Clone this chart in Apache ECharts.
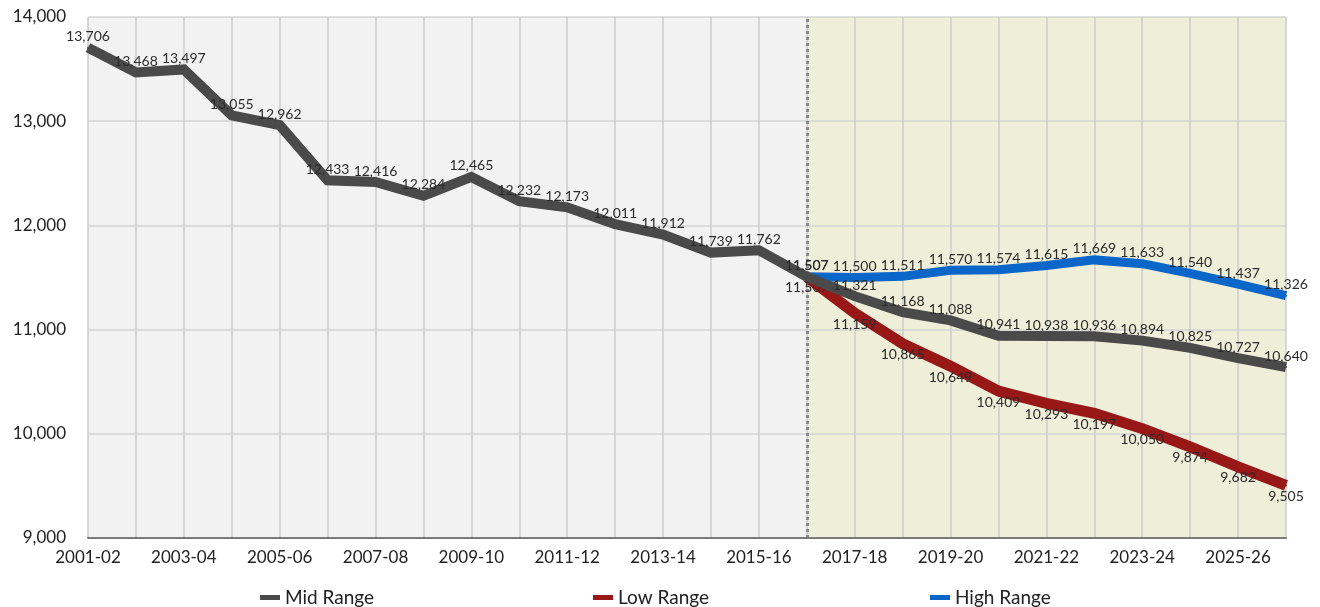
<!DOCTYPE html>
<html>
<head>
<meta charset="utf-8">
<script src="https://cdn.jsdelivr.net/npm/echarts@6/dist/echarts.min.js"></script>
<style>
  html, body { margin: 0; padding: 0; background: #fff; }
  #chart { width: 1320px; height: 607px; }
</style>
</head>
<body>
<div id="chart"></div>
<script>
// School years on the category axis
const years = ['2001-02','2002-03','2003-04','2004-05','2005-06','2006-07','2007-08','2008-09',
  '2009-10','2010-11','2011-12','2012-13','2013-14','2014-15','2015-16','2016-17','2017-18',
  '2018-19','2019-20','2020-21','2021-22','2022-23','2023-24','2024-25','2025-26','2026-27'];

// Actuals through 2016-17, then the mid-range projection
const midRange = [13706,13468,13497,13055,12962,12433,12416,12284,12465,12232,12173,12011,11912,
  11739,11762,11507,11321,11168,11088,10941,10938,10936,10894,10825,10727,10640];

// Low and high projections start from the 2016-17 value
const lowRange = [null,null,null,null,null,null,null,null,null,null,null,null,null,null,null,
  11507,11159,10865,10649,10409,10293,10197,10050,9874,9682,9505];
const highRange = [null,null,null,null,null,null,null,null,null,null,null,null,null,null,null,
  11507,11500,11511,11570,11574,11615,11669,11633,11540,11437,11326];

const yTicks = [9000, 14000, 1000]; // min, max, step
const projectionStart = '2016-17';

const FONT = 'Lato, "Noto Sans", sans-serif';
const fmt = v => Number(v).toLocaleString('en-US');

const chart = echarts.init(document.getElementById('chart'));

const labelStyle = (pos) => ({
  show: true,
  position: pos,
  distance: 3,
  fontFamily: FONT,
  fontSize: 14,
  color: '#2b2b2b',
  formatter: p => fmt(p.value)
});

// tiny point markers (hidden inside the thick line) that carry the value labels
const pointMarks = {
  symbol: 'circle',
  symbolSize: 2,
  showSymbol: true,
  showAllSymbol: true
};

const legendBase = {
  top: 583,
  itemWidth: 20,
  itemHeight: 5,
  icon: 'rect',
  textStyle: { fontFamily: FONT, fontSize: 19, color: '#222' }
};

chart.setOption({
  animation: false,
  backgroundColor: '#fff',
  grid: { left: 88, right: 34, top: 17, bottom: 69 },
  legend: [
    Object.assign({ left: 255, data: ['Mid Range'] }, legendBase),
    Object.assign({ left: 588, data: ['Low Range'] }, legendBase),
    Object.assign({ left: 925, data: ['High Range'] }, legendBase)
  ],
  xAxis: {
    type: 'category',
    data: years,
    boundaryGap: false,
    z: 3,
    axisLine: { show: true, lineStyle: { color: '#7a7a7a', width: 2 } },
    axisTick: { show: false },
    axisLabel: { interval: 1, fontFamily: FONT, fontSize: 17, color: '#222', margin: 11 },
    splitLine: { show: false }
  },
  yAxis: {
    type: 'value',
    min: yTicks[0],
    max: yTicks[1],
    interval: yTicks[2],
    axisLine: { show: false },
    axisTick: { show: false },
    axisLabel: { fontFamily: FONT, fontSize: 17, color: '#222', margin: 22, formatter: v => fmt(v) },
    splitLine: { show: true, lineStyle: { color: '#d4d4d4', width: 1.5 } }
  },
  series: [
    {
      // background panels and the vertical year grid, drawn under the data lines
      name: 'panels',
      type: 'line',
      z: -1,
      silent: true,
      data: midRange,
      showSymbol: false,
      lineStyle: { opacity: 0 },
      markArea: {
        silent: true,
        z: -2,
        data: [
          [{ xAxis: years[0], itemStyle: { color: '#f2f2f2' } }, { xAxis: projectionStart }],
          [{ xAxis: projectionStart, itemStyle: { color: '#efeed8' } }, { xAxis: years[years.length - 1] }]
        ]
      },
      markLine: {
        silent: true,
        z: 0.5,
        symbol: 'none',
        label: { show: false },
        lineStyle: { type: 'solid', color: '#cdcdcd', width: 1.5 },
        data: years.map(y => ({ xAxis: y }))
      }
    },
    Object.assign({
      name: 'Mid Range',
      type: 'line',
      data: midRange,
      color: '#4a4a4a',
      itemStyle: { color: '#4a4a4a' },
      lineStyle: { width: 10, color: '#4a4a4a', join: 'miter' },
      label: labelStyle('top'),
      z: 3,
      markLine: {
        silent: true,
        z: 1,
        symbol: 'none',
        label: { show: false },
        lineStyle: { type: [3, 3], color: '#8a8a8a', width: 3 },
        data: [{ xAxis: projectionStart }]
      }
    }, pointMarks),
    Object.assign({
      name: 'Low Range',
      type: 'line',
      data: lowRange,
      color: '#981717',
      itemStyle: { color: '#981717' },
      lineStyle: { width: 11, color: '#981717', join: 'miter' },
      label: labelStyle('bottom'),
      z: 2
    }, pointMarks),
    Object.assign({
      name: 'High Range',
      type: 'line',
      data: highRange,
      color: '#0a66c8',
      itemStyle: { color: '#0a66c8' },
      lineStyle: { width: 9, color: '#0a66c8', join: 'miter' },
      label: labelStyle('top'),
      z: 2
    }, pointMarks)
  ]
});
</script>
</body>
</html>
